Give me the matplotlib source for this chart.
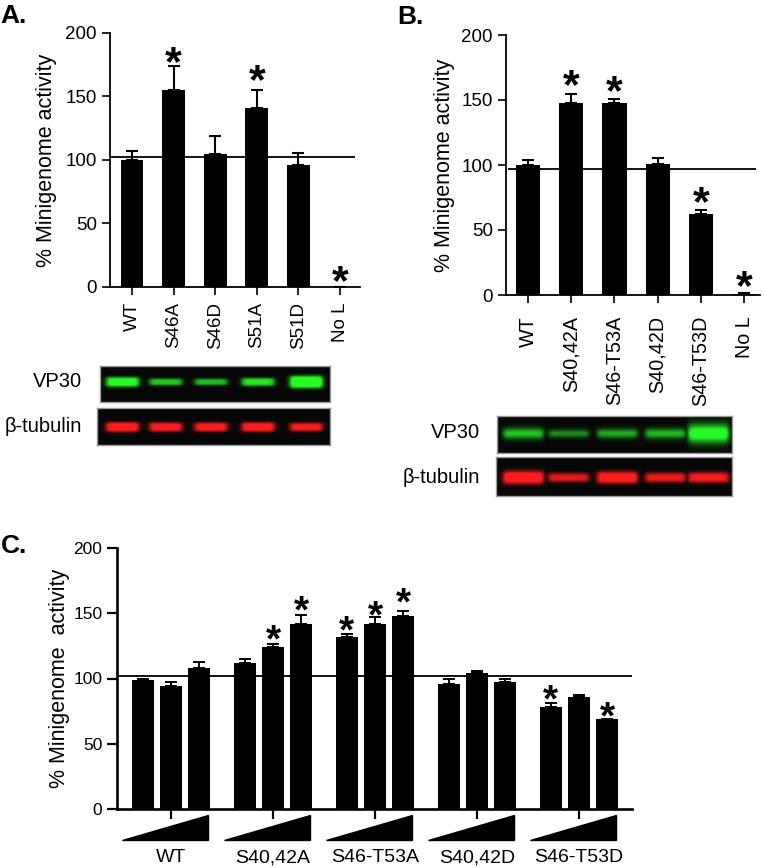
import matplotlib
matplotlib.use("Agg")
import matplotlib.pyplot as plt
from matplotlib.patches import Polygon
import numpy as np

plt.rcParams['font.family'] = ['Liberation Sans', 'DejaVu Sans']

# ---------------- data ----------------
# panel A
a_labels = ["WT", "S46A", "S46D", "S51A", "S51D", "No L"]
a_vals = [100, 155, 105, 141, 96, 0]
a_errs = [7, 19, 14, 14.5, 9.5, 0]
a_stars = [None, 185, None, 171, None, 13]
a_ref = 102

# panel B
b_labels = ["WT", "S40,42A", "S46-T53A", "S40,42D", "S46-T53D", "No L"]
b_vals = [100, 148, 147.5, 101, 62.5, 1]
b_errs = [3.5, 7, 3, 4.6, 2.6, 0.5]
b_stars = [None, 169, 165, None, 79, 15]
b_ref = 96.7

# blots (relative band intensity per lane)
a_vp30 = [0.85, 0.62, 0.58, 0.72, 1.0]
a_tub = [0.9, 0.85, 0.85, 0.88, 0.8]
b_vp30 = [0.65, 0.45, 0.55, 0.6, 1.0]
b_tub = [0.95, 0.7, 0.9, 0.75, 0.8]

# panel C
c_groups = ["WT", "S40,42A", "S46-T53A", "S40,42D", "S46-T53D"]
c_vals = [[99, 94, 108], [112, 124, 142], [132, 142, 148], [96, 104, 97], [78, 86, 69]]
c_errs = [[1, 3, 5], [3, 2.5, 6.5], [2, 5, 4], [3.5, 1.5, 2.5], [3.3, 1.3, 0]]
c_stars = [(1, 1, 137), (1, 2, 159), (2, 0, 144), (2, 1, 155), (2, 2, 165.5),
           (4, 0, 91), (4, 2, 78)]
c_ref = 102

W, H = 766, 868
fig = plt.figure(figsize=(W / 100, H / 100), dpi=100)


def box(x0, y0, x1, y1):
    # pixel box -> figure fraction
    return [x0 / W, 1 - y1 / H, (x1 - x0) / W, (y1 - y0) / H]


def star(ax, x, y, size):
    ax.annotate("*", (x, y), xytext=(0, -0.54 * size), textcoords="offset points",
                ha="center", va="baseline", fontsize=size, fontweight="bold",
                annotation_clip=False)


def bar_panel(ax, labels, vals, errs, stars, ref, ref_x, width, star_size, lsize):
    x = np.arange(len(vals))
    ax.bar(x, vals, width=width, color="black",
           yerr=[np.zeros(len(errs)), errs], capsize=4,
           error_kw=dict(elinewidth=1.5, capthick=1.5, ecolor="black"))
    ax.hlines(ref, ref_x[0], ref_x[1], color="black", lw=1.3, zorder=3)
    for xi, s in zip(x, stars):
        if s is not None:
            star(ax, xi, s, star_size)
    ax.set_ylim(0, 200)
    ax.set_yticks([0, 50, 100, 150, 200])
    ax.set_xticks(x)
    ax.set_xticklabels(labels, rotation=90, fontsize=lsize)
    ax.tick_params(direction="out", length=6, width=1.2, labelsize=13.5)
    ax.tick_params(axis="x", labelsize=lsize)
    for s in ["top", "right"]:
        ax.spines[s].set_visible(False)
    for s in ["left", "bottom"]:
        ax.spines[s].set_linewidth(1.3)
    ax.set_ylabel("% Minigenome activity", fontsize=15.5)


def blot(rect, levels, rgb, lanes, lane_w, yc, thick, power):
    w = int(round(rect[2] - rect[0]))
    h = int(round(rect[3] - rect[1]))
    yy, xx = np.mgrid[0:h, 0:w]
    img = np.zeros((h, w))
    for lx, lv in zip(lanes, levels):
        px = 1 / (1 + np.exp((np.abs(xx - lx) - lane_w / 2) / 1.5))
        t = thick * (0.3 + 0.7 * lv ** 2)
        py = np.exp(-np.abs((yy - yc) / t) ** power)
        img = np.maximum(img, lv * px * py)
    rgbimg = 0.03 + np.clip(img * 1.25, 0, 1)[..., None] * np.array(rgb)
    ax = fig.add_axes(box(*rect))
    ax.imshow(np.clip(rgbimg, 0, 1), aspect="auto", interpolation="bilinear")
    ax.set_xticks([])
    ax.set_yticks([])
    for s in ax.spines.values():
        s.set_color("#9a9a9a")
        s.set_linewidth(1.0)
    return ax


# ---------------- panel A ----------------
axA = fig.add_axes(box(110, 33, 360, 287))
bar_panel(axA, a_labels, a_vals, a_errs, a_stars, a_ref, (-0.53, 5.36), 0.55, 31, 13.5)
axA.set_xlim(-0.53, 5.48)
axA.tick_params(axis="x", pad=5)
axA.yaxis.set_label_coords(-0.21, 0.5)

blot((100, 366, 330, 402), a_vp30, (0.12, 1.0, 0.12), [22, 65, 110, 157, 205], 32, 16, 6, 4)
blot((97, 408, 330, 445), a_tub, (1.0, 0.08, 0.08), [25, 68, 113, 160, 208], 32, 19, 5.5, 4)
fig.text(82 / W, 1 - 382 / H, "VP30", ha="right", va="center", fontsize=14.5)
fig.text(82 / W, 1 - 427 / H, "β-tubulin", ha="right", va="center", fontsize=14.5)

# ---------------- panel B ----------------
axB = fig.add_axes(box(506, 35, 760, 295))
bar_panel(axB, b_labels, b_vals, b_errs, b_stars, b_ref, (-0.46, 5.28), 0.56, 31, 14.2)
axB.set_xlim(-0.51, 5.37)
axB.tick_params(axis="x", pad=9)
axB.yaxis.set_label_coords(-0.20, 0.5)

blot((497, 416, 732, 453), b_vp30, (0.12, 0.95, 0.12), [26, 71, 120, 168, 211], 40, 17, 9, 2)
blot((496, 457, 732, 496), b_tub, (1.0, 0.08, 0.08), [27, 72, 121, 169, 212], 40, 20, 7, 3)
fig.text(480 / W, 1 - 433 / H, "VP30", ha="right", va="center", fontsize=14.5)
fig.text(480 / W, 1 - 477 / H, "β-tubulin", ha="right", va="center", fontsize=14.5)

# ---------------- panel C ----------------
axC = fig.add_axes(box(117, 548, 632, 809))
off = 0.275
for g, (vals, errs) in enumerate(zip(c_vals, c_errs)):
    xs = g + off * np.array([-1, 0, 1])
    axC.bar(xs, vals, width=0.216, color="black",
            yerr=[np.zeros(3), errs], capsize=4,
            error_kw=dict(elinewidth=1.4, capthick=1.4, ecolor="black"))
    tri = Polygon([(g - 0.48, -24), (g + 0.36, -24), (g + 0.36, -4.6)],
                  closed=True, color="black", clip_on=False)
    axC.add_patch(tri)
    axC.text(g, -37.5, c_groups[g], ha="center", va="center", fontsize=14)
for g, b, s in c_stars:
    star(axC, g + off * (b - 1), s, 28)
axC.hlines(c_ref, -0.53, 4.52, color="black", lw=1.3, zorder=3)
axC.set_xlim(-0.53, 4.52)
axC.set_ylim(0, 200)
axC.set_yticks([0, 50, 100, 150, 200])
axC.set_xticks(range(len(c_groups)))
axC.set_xticklabels([])
axC.tick_params(direction="out", length=7, width=1.6, labelsize=12.5)
for s in ["top", "right"]:
    axC.spines[s].set_visible(False)
for s in ["left", "bottom"]:
    axC.spines[s].set_linewidth(1.9)
axC.set_ylabel("% Minigenome  activity", fontsize=15.5)
axC.yaxis.set_label_coords(-0.091, 0.5)

# panel letters
fig.text(0 / W, 1 - 16 / H, "A.", fontsize=19, fontweight="bold", va="center")
fig.text(397 / W, 1 - 17 / H, "B.", fontsize=19, fontweight="bold", va="center")
fig.text(1 / W, 1 - 546 / H, "C.", fontsize=19, fontweight="bold", va="center")

fig.savefig("out.png", dpi=100)
